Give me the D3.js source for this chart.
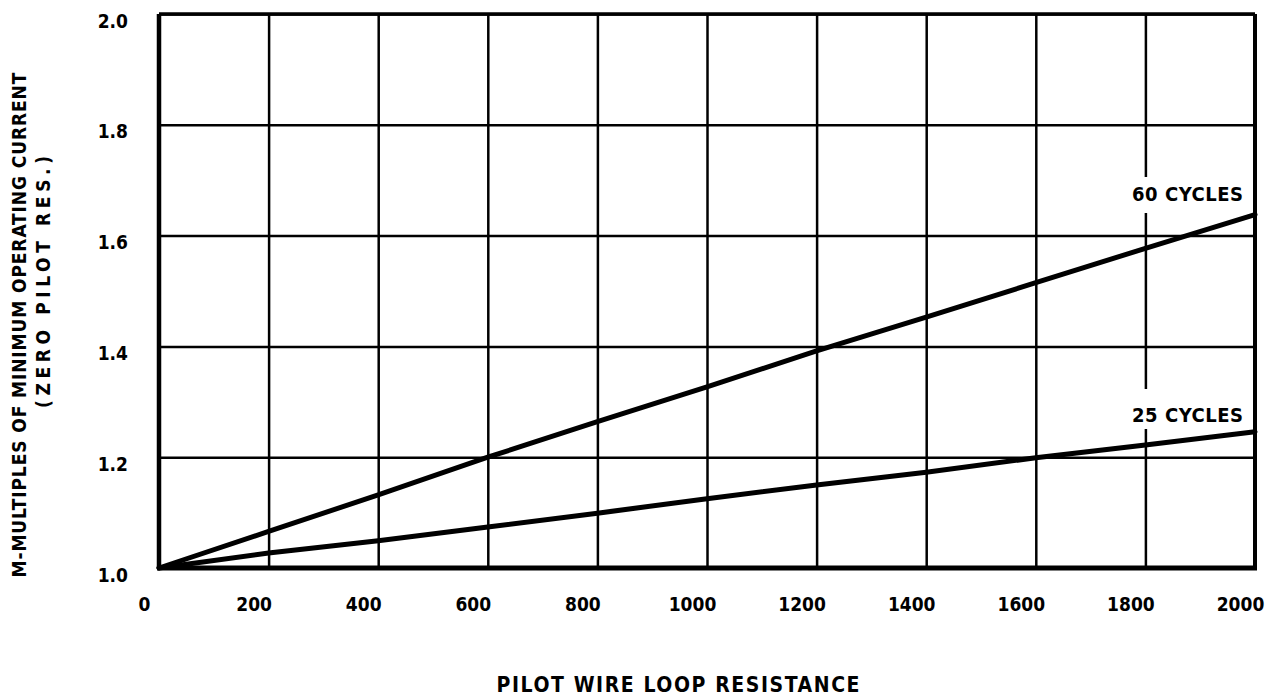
<!DOCTYPE html>
<html>
<head>
<meta charset="utf-8">
<script src="https://cdn.jsdelivr.net/npm/d3@7"></script>
<style>
  body { margin: 0; background: #fff; }
  svg { display: block; }
  text { font-family: 'DejaVu Sans Condensed', 'DejaVu Sans', sans-serif; font-weight: bold; fill: #000; }
  .domain { display: none; }
</style>
</head>
<body>
<svg id="chart" width="1265" height="696"></svg>
<script>
// Pilot wire loop resistance (ohms)
const resistance = [0, 200, 400, 600, 800, 1000, 1200, 1400, 1600, 1800, 2000];
// M values
const cycles60 = [1.0, 1.066, 1.132, 1.2, 1.264, 1.327, 1.392, 1.453, 1.515, 1.577, 1.638];
const cycles25 = [1.0, 1.027, 1.049, 1.074, 1.099, 1.125, 1.15, 1.173, 1.199, 1.222, 1.246];
const seriesNames = ['60 CYCLES', '25 CYCLES'];
const xTicks = [0, 200, 400, 600, 800, 1000, 1200, 1400, 1600, 1800, 2000];
const yTicks = [1.0, 1.2, 1.4, 1.6, 1.8, 2.0];

const margin = { top: 14, right: 10, bottom: 128, left: 159 };
const width = 1255 - margin.left;
const height = 568 - margin.top;

const svg = d3.select('#chart');
const g = svg.append('g')
  .attr('transform', `translate(${margin.left},${margin.top})`);

const x = d3.scaleLinear().domain([0, 2000]).range([0, width]);
const y = d3.scaleLinear().domain([1.0, 2.0]).range([height, 0]);

// grid
g.append('g')
  .attr('class', 'grid-x')
  .call(d3.axisBottom(x).tickValues(xTicks).tickSize(height).tickFormat(''))
  .selectAll('line')
  .attr('stroke', '#000')
  .attr('stroke-width', 2.5);

g.append('g')
  .attr('class', 'grid-y')
  .call(d3.axisLeft(y).tickValues(yTicks).tickSize(-width).tickFormat(''))
  .selectAll('line')
  .attr('stroke', '#000')
  .attr('stroke-width', 2.5);

// frame, heavier on the left, right and bottom
g.append('line').attr('x1', 0).attr('x2', 0).attr('y1', 0).attr('y2', height)
  .attr('stroke', '#000').attr('stroke-width', 4.5);
g.append('line').attr('x1', width).attr('x2', width).attr('y1', 0).attr('y2', height)
  .attr('stroke', '#000').attr('stroke-width', 4);
g.append('line').attr('x1', 0).attr('x2', width).attr('y1', 0).attr('y2', 0)
  .attr('stroke', '#000').attr('stroke-width', 3.5);
g.append('line').attr('x1', -2).attr('x2', width + 2).attr('y1', height).attr('y2', height)
  .attr('stroke', '#000').attr('stroke-width', 5);

// tick labels
const xAxis = g.append('g')
  .attr('transform', `translate(0,${height})`)
  .call(d3.axisBottom(x).tickValues(xTicks).tickSize(0).tickPadding(30).tickFormat(d3.format('d')));
xAxis.selectAll('text')
  .attr('font-size', '19px')
  .attr('dx', -15);

const yAxis = g.append('g')
  .call(d3.axisLeft(y).tickValues(yTicks).tickSize(0).tickPadding(31).tickFormat(d3.format('.1f')));
yAxis.selectAll('text')
  .attr('font-size', '19px')
  .attr('dy', '0.32em')
  .attr('transform', 'translate(0,7)');

// curves
const line = d3.line()
  .x((d, i) => x(resistance[i]))
  .y((d) => y(d));

[cycles60, cycles25].forEach((vals) => {
  g.append('path')
    .attr('d', line(vals))
    .attr('fill', 'none')
    .attr('stroke', '#000')
    .attr('stroke-width', 5)
    .attr('stroke-linecap', 'round');
});

// curve labels, with a white patch that breaks the 1800 gridline
const labels = [
  { name: seriesNames[0], value: 1.6, gap: [177, 213] },
  { name: seriesNames[1], value: 1.2, gap: [389, 429] }
];
labels.forEach((l) => {
  const yPos = y(l.value);
  g.append('rect')
    .attr('x', x(1800) - 4)
    .attr('width', 8)
    .attr('y', l.gap[0] - margin.top)
    .attr('height', l.gap[1] - l.gap[0])
    .attr('fill', '#fff');
  g.append('text')
    .attr('x', 1243 - margin.left)
    .attr('y', yPos - 35)
    .attr('text-anchor', 'end')
    .attr('font-size', '20px')
    .attr('textLength', 111)
    .attr('lengthAdjust', 'spacing')
    .text(l.name);
});

// axis titles
svg.append('text')
  .attr('x', 678)
  .attr('y', 692)
  .attr('text-anchor', 'middle')
  .attr('font-size', '21px')
  .attr('textLength', 363)
  .attr('lengthAdjust', 'spacing')
  .text('PILOT WIRE LOOP RESISTANCE');

svg.append('text')
  .attr('transform', 'translate(26,325) rotate(-90)')
  .attr('text-anchor', 'middle')
  .attr('font-size', '19px')
  .attr('textLength', 505)
  .attr('lengthAdjust', 'spacing')
  .text('M-MULTIPLES OF MINIMUM OPERATING CURRENT');

svg.append('text')
  .attr('transform', 'translate(50,282) rotate(-90)')
  .attr('text-anchor', 'middle')
  .attr('font-size', '19px')
  .attr('textLength', 252)
  .attr('lengthAdjust', 'spacing')
  .text('(ZERO PILOT RES.)');
</script>
</body>
</html>
